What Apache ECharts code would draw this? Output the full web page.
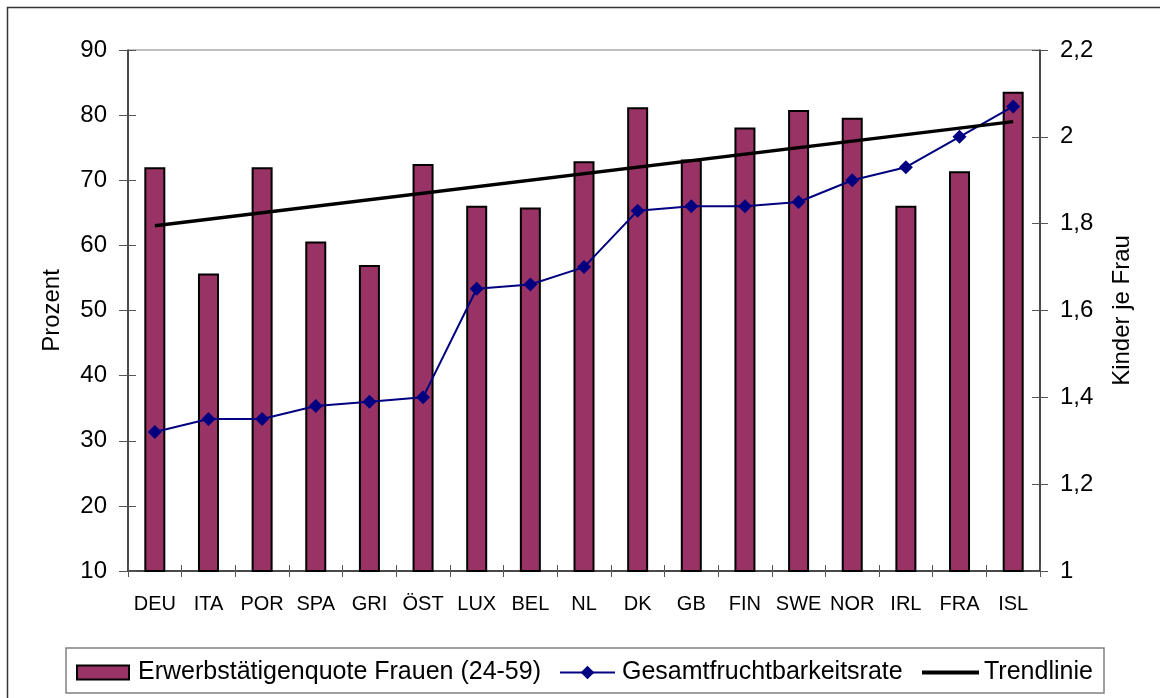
<!DOCTYPE html>
<html>
<head>
<meta charset="utf-8">
<script src="https://cdn.jsdelivr.net/npm/echarts@6/dist/echarts.min.js"></script>
<style>
html,body{margin:0;padding:0;background:#fff;}
#chart{width:1160px;height:698px;}
</style>
</head>
<body>
<div id="chart"></div>
<script>
// ---- data ----
var categories = ['DEU','ITA','POR','SPA','GRI','ÖST','LUX','BEL','NL','DK','GB','FIN','SWE','NOR','IRL','FRA','ISL'];
var erwerbsquote = [72.0, 55.7, 72.0, 60.6, 57.0, 72.5, 66.1, 65.8, 72.9, 81.2, 73.2, 78.1, 80.8, 79.6, 66.1, 71.4, 83.6];
var fruchtbarkeit = [1.32, 1.35, 1.35, 1.38, 1.39, 1.40, 1.65, 1.66, 1.70, 1.83, 1.84, 1.84, 1.85, 1.90, 1.93, 2.00, 2.07];
var trendEnds = [63.0, 79.0];           // trend line value at first and last category
var leftTicks = [10, 20, 30, 40, 50, 60, 70, 80, 90];
var rightTicks = [1, 1.2, 1.4, 1.6, 1.8, 2, 2.2];
var seriesNames = ['Erwerbstätigenquote Frauen (24-59)', 'Gesamtfruchtbarkeitsrate', 'Trendlinie'];
var axisNames = ['Prozent', 'Kinder je Frau'];

var FONT = '"Liberation Sans", Arial, sans-serif';
var chart = echarts.init(document.getElementById('chart'), null, {renderer: 'canvas'});

function rightFmt(v) { return String(+(+v).toFixed(1)).replace('.', ','); }

var lineCol = '#222';
var tickCol = '#555';

var baseCat = {
  type: 'category', data: categories, position: 'bottom', boundaryGap: true
};

var option = {
  backgroundColor: '#fff',
  animation: false,
  grid: {left: 128, right: 120, top: 50, bottom: 127, show: true, borderColor: '#808080', borderWidth: 1, backgroundColor: 'transparent'},
  graphic: [
    {type: 'rect', shape: {x: 7.5, y: 7.5, width: 1300, height: 900}, style: {fill: 'none', stroke: '#333', lineWidth: 1.5}, silent: true, z: -10},
    {type: 'rect', shape: {x: 66, y: 648, width: 1038, height: 45}, style: {fill: 'none', stroke: '#808080', lineWidth: 1.5}, silent: true}
  ],
  legend: [
    {data: [{name: seriesNames[0], icon: 'rect'}], left: 76, top: 660, padding: 0, itemWidth: 52, itemHeight: 14,
     textStyle: {fontSize: 25, color: '#000', fontFamily: FONT, padding: [0, 0, 0, 4]}},
    {data: [seriesNames[1]], left: 559, top: 660, padding: 0, itemWidth: 55, itemHeight: 17,
     textStyle: {fontSize: 25, color: '#000', fontFamily: FONT, padding: [0, 0, 0, 2]}},
    {data: [{name: seriesNames[2], icon: 'rect'}], left: 922, top: 660, padding: 0, itemWidth: 57, itemHeight: 4,
     textStyle: {fontSize: 25, color: '#000', fontFamily: FONT}}
  ],
  xAxis: [
    Object.assign({}, baseCat, {
      axisLine: {show: true, lineStyle: {color: lineCol, width: 1.5}},
      axisTick: {show: true, inside: false, length: 6, lineStyle: {color: tickCol, width: 1}},
      axisLabel: {show: true, margin: 23, fontSize: 20, color: '#000', fontFamily: FONT, interval: 0},
      splitLine: {show: false}
    }),
    Object.assign({}, baseCat, {
      axisLine: {show: false},
      axisTick: {show: true, inside: true, length: 6, lineStyle: {color: tickCol, width: 1}},
      axisLabel: {show: false},
      splitLine: {show: false}
    })
  ],
  yAxis: [
    {type: 'value', position: 'left', min: leftTicks[0], max: leftTicks[leftTicks.length - 1], interval: leftTicks[1] - leftTicks[0],
     name: axisNames[0], nameLocation: 'middle', nameGap: 64, nameRotate: 90,
     nameTextStyle: {fontSize: 24, color: '#000', fontFamily: FONT},
     axisLine: {show: true, lineStyle: {color: lineCol, width: 1.5}},
     axisTick: {show: true, inside: false, length: 9, lineStyle: {color: tickCol, width: 1}},
     axisLabel: {show: true, margin: 21, fontSize: 24, color: '#000', fontFamily: FONT},
     splitLine: {show: false}},
    {type: 'value', position: 'right', min: rightTicks[0], max: rightTicks[rightTicks.length - 1], interval: 0.2,
     name: axisNames[1], nameLocation: 'middle', nameGap: 70, nameRotate: 90,
     nameTextStyle: {fontSize: 24, color: '#000', fontFamily: FONT},
     axisLine: {show: true, lineStyle: {color: lineCol, width: 1.5}},
     axisTick: {show: true, inside: false, length: 8, lineStyle: {color: tickCol, width: 1}},
     axisLabel: {show: true, margin: 20, fontSize: 24, color: '#000', fontFamily: FONT, formatter: rightFmt},
     splitLine: {show: false}},
    {type: 'value', position: 'left', min: leftTicks[0], max: leftTicks[leftTicks.length - 1], interval: leftTicks[1] - leftTicks[0],
     axisLine: {show: false},
     axisTick: {show: true, inside: true, length: 8, lineStyle: {color: tickCol, width: 1}},
     axisLabel: {show: false}, splitLine: {show: false}},
    {type: 'value', position: 'right', min: rightTicks[0], max: rightTicks[rightTicks.length - 1], interval: 0.2,
     axisLine: {show: false},
     axisTick: {show: true, inside: true, length: 8, lineStyle: {color: tickCol, width: 1}},
     axisLabel: {show: false}, splitLine: {show: false}}
  ],
  series: [
    {name: seriesNames[0], type: 'bar', xAxisIndex: 0, yAxisIndex: 0, data: erwerbsquote, barWidth: 21,
     itemStyle: {color: '#993366', borderColor: '#000', borderWidth: 2}, z: 2},
    {name: seriesNames[1], type: 'line', xAxisIndex: 0, yAxisIndex: 1, data: fruchtbarkeit,
     symbol: 'diamond', symbolSize: 14, showAllSymbol: true,
     lineStyle: {color: '#000080', width: 2}, itemStyle: {color: '#000080'}, z: 3},
    {name: seriesNames[2], type: 'line', xAxisIndex: 0, yAxisIndex: 0,
     data: [[categories[0], trendEnds[0]], [categories[categories.length - 1], trendEnds[1]]],
     symbol: 'none', lineStyle: {color: '#000', width: 3.5}, itemStyle: {color: '#000'}, z: 4}
  ]
};
chart.setOption(option);
</script>
</body>
</html>
